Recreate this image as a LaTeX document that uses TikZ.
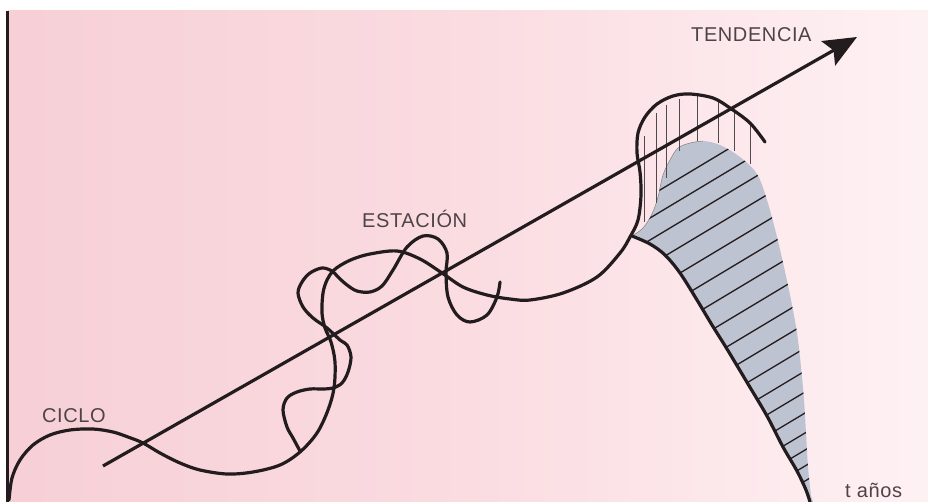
\documentclass[tikz,border=0pt]{standalone}
\usepackage{fontspec}
\setmainfont[LetterSpace=3]{Liberation Sans}
\usetikzlibrary{arrows.meta}
\definecolor{pkA}{RGB}{244,195,204}
\definecolor{pkB}{RGB}{250,220,225}
\definecolor{pkC}{RGB}{255,244,246}
\definecolor{ink}{RGB}{35,28,30}
\definecolor{txt}{RGB}{78,68,72}
\definecolor{shadecol}{RGB}{190,195,209}
\pgfdeclarehorizontalshading{bgshade}{100bp}{color(0bp)=(pkA); color(50bp)=(pkB); color(78bp)=(pkC); color(88bp)=(white); color(100bp)=(white)}
\begin{document}
\begin{tikzpicture}[x=1pt,y=-1pt,
  curve/.style={ink, line width=3.2pt, line cap=round, line join=round},
  hatch/.style={ink, line width=1.3pt},
  vhatch/.style={ink!80, line width=0.7pt},
  lbl/.style={txt, font=\fontsize{20}{21}\selectfont, inner sep=0pt, anchor=base west}]
\useasboundingbox (0,0) rectangle (928,502);
\fill[white] (0,0) rectangle (928,502);
\shade[shading=bgshade] (8,11) rectangle (928,502);
\draw[ink, line width=2.5pt] (7.5,11) -- (7.5,502);

% shaded region
\def\grayregion{plot[smooth, tension=0.55] coordinates {(632,236) (650,244) (665,255) (680,273) (697,300) (712,325) (727,349) (748,384) (767,416) (783,447) (797,471) (806,490) (810,502)}
  -- (813,502) -- plot[smooth, tension=0.55] coordinates {(811,496) (808,467) (806,433) (804,400) (801,367) (797,333) (791,300) (784,267) (776,233) (767,200) (757,174) (740,157) (720,145) (703,141) (690,143) (678,148) (670,160) (663,175) (658,197) (652,214) (643,228) (632,236)} -- cycle}
\fill[shadecol] \grayregion;
\draw[ink!55, line width=0.5pt] plot[smooth, tension=0.55] coordinates {(632,236) (643,228) (652,214) (658,197) (663,175) (670,160) (678,148) (690,143) (703,141)};
\begin{scope}
  \clip \grayregion;
  \foreach \c in {106,128,150,175,201,226,251,277,303,327,351,374,395,416,436,453,469,484}
    \draw[hatch] (600,{\c+120}) -- (840,{\c-24});
\end{scope}

% vertical hatching under the cap
\draw[vhatch] (644,136) -- (644,222);
\draw[vhatch] (656,113) -- (656,203);
\draw[vhatch] (666,105) -- (666,178);
\draw[vhatch] (679,99) -- (679,151);
\draw[vhatch] (697,95) -- (697,141);
\draw[vhatch] (718,100) -- (718,143);
\draw[vhatch] (734,109) -- (734,151);
\draw[vhatch] (750,122) -- (750,164);

% bold descending edge
\draw[curve] plot[smooth, tension=0.55] coordinates {(632,236) (650,244) (665,255) (680,273) (697,300) (712,325) (727,349) (748,384) (767,416) (783,447) (797,471) (806,490) (810,502)};

% cycle curve
\draw[curve] plot[smooth, tension=0.55] coordinates {(9,500) (12,478) (20,460) (33,445) (50,435) (70,430) (93,429) (113,432) (128,437) (143,443) (160,453) (180,463) (200,470) (227,474) (253,472) (280,465) (300,452) (317,433) (328,410) (334,388) (335,362) (331,342) (325,328) (322,313) (323,293) (327,280) (333,271) (341,265) (353,259) (370,254) (397,251) (420,259) (442,273) (463,287) (487,295) (510,299) (530,300) (563,293) (597,277) (620,253) (630,237) (638,220) (641,195) (640,172) (637,153) (638,133) (645,117) (657,104) (673,96) (690,94) (713,98) (730,108) (750,123) (765,142)};

% season curve
\draw[curve] plot[smooth, tension=0.55] coordinates {(300,451) (293,438) (287,427) (283,410) (287,398) (297,392) (310,389) (323,389) (333,388) (342,383) (348,372) (351,357) (347,345) (340,340) (327,328) (313,318) (303,307) (298,293) (302,282) (310,273) (322,268) (332,271) (338,277) (347,285) (357,291) (370,292) (382,286) (393,270) (407,247) (423,236) (438,239) (447,253) (446,273) (448,297) (457,315) (470,322) (487,315) (497,297) (500,282)};

% trend arrow
\coordinate (a0) at (103,466);
\coordinate (a1) at (857,37);
\draw[curve, line cap=butt, -{Stealth[length=33pt,width=28pt,inset=6pt]}] (a0) -- (a1);

% labels
\node[lbl] (ciclo) at (42,422) {CICLO};
\node[lbl] (estacion) at (362,228) {ESTACIÓN};
\node[lbl] (tendencia) at (691,42) {TENDENCIA};
\node[lbl] (tanos) at (845,497) {t años};
\end{tikzpicture}
\end{document}
